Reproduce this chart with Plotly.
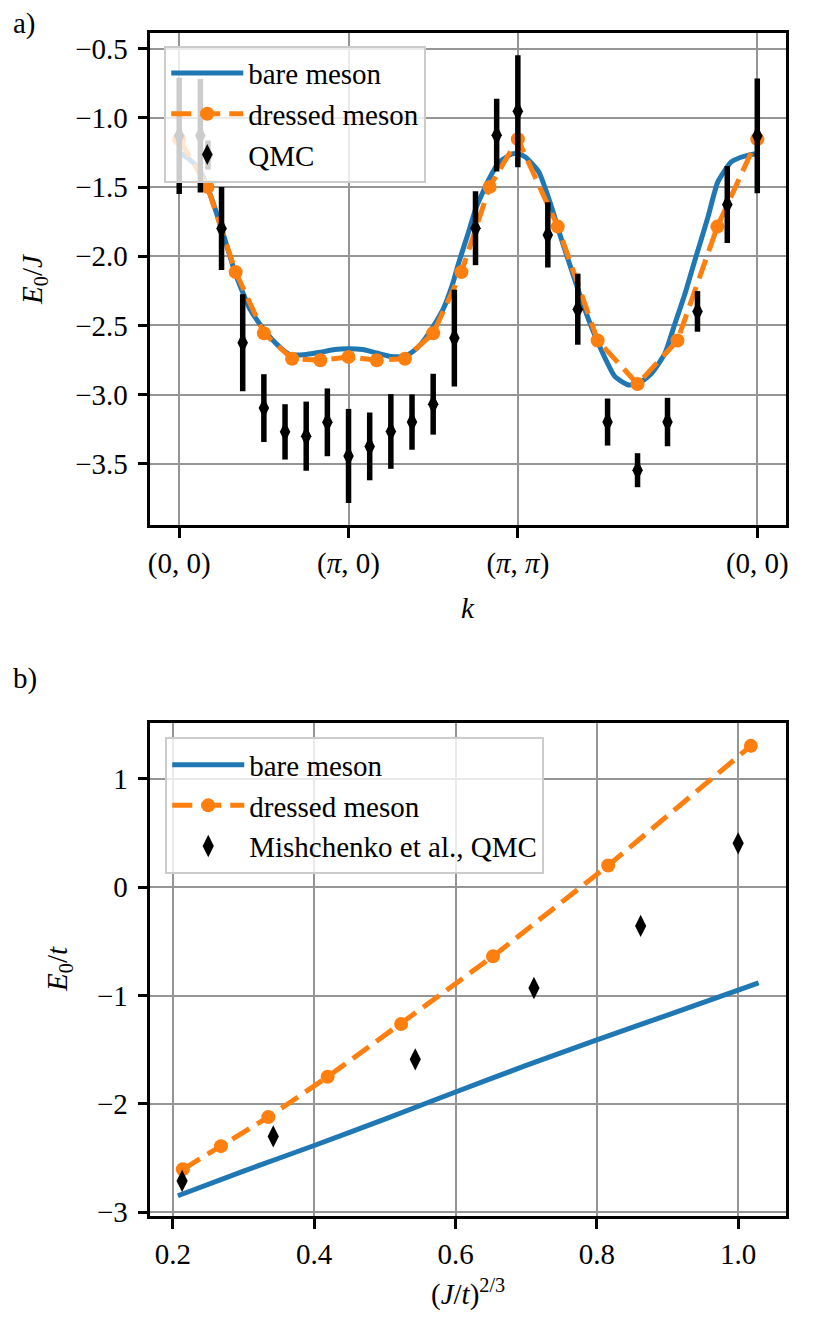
import plotly.graph_objects as go

W, H = 822, 1320          # page body has an 8px margin, so the figure sits at (8, 8)
OFF = 8
FONT = "Liberation Serif, Times New Roman, serif"
FS = 29
BLUE = "#1f77b4"
ORANGE = "#ff7f0e"

# ---------------- panel a data ----------------
k_tick_vals = [0.0, 1.0, 2.0, 3.4142]
k_tick_text = ["(0, 0)", "(<i>π</i>, 0)", "(<i>π</i>, <i>π</i>)", "(0, 0)"]
ya_tick_vals = [-3.5, -3.0, -2.5, -2.0, -1.5, -1.0, -0.5]
ya_tick_text = ["−3.5", "−3.0", "−2.5", "−2.0", "−1.5", "−1.0", "−0.5"]

bare_k = [0.0, 0.06, 0.118, 0.167, 0.25, 0.333, 0.417, 0.5, 0.583, 0.65, 0.75,
          0.833, 0.917, 1.0, 1.083, 1.167, 1.25, 1.333, 1.40, 1.45, 1.497, 1.56,
          1.615, 1.65, 1.70, 1.752, 1.80, 1.831, 1.889, 1.967, 2.0, 2.046, 2.124,
          2.202, 2.25, 2.30, 2.35, 2.398, 2.476, 2.574, 2.654, 2.713, 2.789, 2.868,
          2.927, 2.99, 3.044, 3.12, 3.181, 3.259, 3.318, 3.396, 3.4142]
bare_E = [-1.25, -1.30, -1.37, -1.50, -1.80, -2.13, -2.38, -2.53, -2.645, -2.71, -2.71,
          -2.695, -2.675, -2.669, -2.675, -2.70, -2.725, -2.725, -2.67, -2.60, -2.514, -2.38,
          -2.20, -2.05, -1.86, -1.655, -1.52, -1.44, -1.32, -1.261, -1.26, -1.285, -1.392,
          -1.655, -1.85, -2.036, -2.22, -2.394, -2.633, -2.871, -2.931, -2.92, -2.848, -2.705,
          -2.49, -2.26, -2.036, -1.73, -1.463, -1.320, -1.285, -1.261, -1.26]

dressed_k = [0.0, 0.1667, 0.3333, 0.5, 0.6667, 0.8333, 1.0, 1.1667, 1.3333, 1.5,
             1.6667, 1.8333, 2.0, 2.2357, 2.4714, 2.7071, 2.9428, 3.1785, 3.4142]
dressed_E = [-1.154, -1.499, -2.115, -2.557, -2.741, -2.752, -2.728, -2.752, -2.741, -2.557,
             -2.115, -1.499, -1.154, -1.786, -2.609, -2.924, -2.609, -1.786, -1.154]

qmc_k = [0.0, 0.125, 0.170, 0.25, 0.375, 0.5, 0.625, 0.75, 0.875, 1.0, 1.125, 1.25,
         1.375, 1.5, 1.625, 1.75, 1.875, 2.0, 2.177, 2.354, 2.530, 2.707, 2.884,
         3.061, 3.237, 3.4142]
qmc_E = [-1.13, -1.13, -1.268, -1.80, -2.626, -3.098, -3.270, -3.301, -3.201, -3.444,
         -3.375, -3.267, -3.199, -3.070, -2.592, -1.798, -1.125, -0.953, -1.846, -2.383,
         -3.199, -3.547, -3.199, -2.399, -1.626, -1.130]
qmc_err = [0.42, 0.41, 0.105, 0.30, 0.35, 0.245, 0.20, 0.25, 0.245, 0.34, 0.245, 0.27,
           0.20, 0.22, 0.35, 0.267, 0.263, 0.405, 0.236, 0.257, 0.17, 0.123, 0.175,
           0.147, 0.278, 0.415]

# ---------------- panel b data ----------------
xb_tick_vals = [0.2, 0.4, 0.6, 0.8, 1.0]
xb_tick_text = ["0.2", "0.4", "0.6", "0.8", "1.0"]
yb_tick_vals = [-3, -2, -1, 0, 1]
yb_tick_text = ["−3", "−2", "−1", "0", "1"]

bare_x_b = [0.207, 0.30, 0.40, 0.50, 0.60, 0.70, 0.80, 0.90, 1.029]
bare_E_b = [-2.848, -2.62, -2.384, -2.14, -1.89, -1.645, -1.41, -1.18, -0.883]

dressed_x_b = [0.214, 0.268, 0.335, 0.419, 0.523, 0.653, 0.816, 1.018]
dressed_E_b = [-2.604, -2.39, -2.122, -1.75, -1.262, -0.638, 0.201, 1.305]

qmc_x_b = [0.213, 0.342, 0.543, 0.711, 0.862, 1.0]
qmc_E_b = [-2.711, -2.30, -1.589, -0.93, -0.357, 0.405]


def px(x):
    return (x - OFF) / W


def py(y):
    return 1 - (y - OFF) / H


fig = go.Figure()

# panel a
fig.add_trace(go.Scatter(x=bare_k, y=bare_E, mode="lines", name="bare meson",
                         line=dict(color=BLUE, width=5, shape="spline", smoothing=0.5),
                         xaxis="x", yaxis="y", legend="legend"))
fig.add_trace(go.Scatter(x=dressed_k, y=dressed_E, mode="lines+markers", name="dressed meson",
                         line=dict(color=ORANGE, width=5, dash="20px,9px"),
                         marker=dict(color=ORANGE, size=14),
                         xaxis="x", yaxis="y", legend="legend"))
fig.add_trace(go.Scatter(x=qmc_k, y=qmc_E, mode="markers", name="QMC",
                         marker=dict(color="black", size=15, symbol="diamond-tall"),
                         error_y=dict(type="data", array=qmc_err, thickness=5.5, width=0, color="black"),
                         xaxis="x", yaxis="y", legend="legend"))

# panel b
fig.add_trace(go.Scatter(x=bare_x_b, y=bare_E_b, mode="lines", name="bare meson",
                         line=dict(color=BLUE, width=5, shape="spline", smoothing=0.5),
                         xaxis="x2", yaxis="y2", legend="legend2"))
fig.add_trace(go.Scatter(x=dressed_x_b, y=dressed_E_b, mode="lines+markers", name="dressed meson",
                         line=dict(color=ORANGE, width=5, dash="20px,9px"),
                         marker=dict(color=ORANGE, size=14),
                         xaxis="x2", yaxis="y2", legend="legend2"))
fig.add_trace(go.Scatter(x=qmc_x_b, y=qmc_E_b, mode="markers", name="Mishchenko et al., QMC",
                         marker=dict(color="black", size=16, symbol="diamond-tall"),
                         xaxis="x2", yaxis="y2", legend="legend2"))

axis_common = dict(showline=True, linecolor="black", linewidth=2.5, mirror=True,
                   ticks="outside", ticklen=10, tickwidth=2.5, tickcolor="black",
                   showgrid=True, gridcolor="#959595", gridwidth=1.8, zeroline=False,
                   tickfont=dict(family=FONT, size=FS, color="black"))

xdom = [px(149), px(788)]
fig.update_layout(
    width=W, height=H,
    margin=dict(l=0, r=0, t=0, b=0),
    paper_bgcolor="white", plot_bgcolor="white",
    font=dict(family=FONT, size=FS, color="black"),
    showlegend=True,
    xaxis=dict(domain=xdom, range=[-0.1707, 3.585], anchor="y",
               tickmode="array", tickvals=k_tick_vals, ticktext=k_tick_text, **axis_common),
    yaxis=dict(domain=[py(530), py(33)], range=[-3.945, -0.385], anchor="x",
               tickmode="array", tickvals=ya_tick_vals, ticktext=ya_tick_text,
               ticklabelstandoff=4, **axis_common),
    xaxis2=dict(domain=xdom, range=[0.168, 1.068], anchor="y2",
                tickmode="array", tickvals=xb_tick_vals, ticktext=xb_tick_text, **axis_common),
    yaxis2=dict(domain=[py(1227.3), py(730)], range=[-3.037, 1.512], anchor="x2",
                tickmode="array", tickvals=yb_tick_vals, ticktext=yb_tick_text,
                ticklabelstandoff=4, **axis_common),
    legend=dict(x=px(163), y=py(46), xanchor="left", yanchor="top",
                bgcolor="rgba(255,255,255,0.8)", bordercolor="#cccccc", borderwidth=2,
                font=dict(family=FONT, size=FS, color="black"), itemwidth=72),
    legend2=dict(x=px(164), y=py(744), xanchor="left", yanchor="top",
                 bgcolor="rgba(255,255,255,0.8)", bordercolor="#cccccc", borderwidth=2,
                 font=dict(family=FONT, size=FS, color="black"), itemwidth=72),
)

annots = [
    dict(text="a)", x=px(OFF + 1), y=py(24), xanchor="left", yanchor="middle"),
    dict(text="b)", x=px(OFF + 1), y=py(685), xanchor="left", yanchor="middle"),
    dict(text="<i>E</i><sub>0</sub>/<i>J</i>", x=px(32), y=py(281.5), textangle=-90,
         xanchor="center", yanchor="middle"),
    dict(text="<i>E</i><sub>0</sub>/<i>t</i>", x=px(57), y=py(978), textangle=-90,
         xanchor="center", yanchor="middle"),
    dict(text="<i>k</i>", x=px(468), y=py(614), xanchor="center", yanchor="middle"),
    dict(text="(<i>J</i>/<i>t</i>)<sup>2/3</sup>", x=px(468), y=py(1304),
         xanchor="center", yanchor="middle"),
]
for a in annots:
    fig.add_annotation(xref="paper", yref="paper", showarrow=False,
                       font=dict(family=FONT, size=FS, color="black"), **a)

fig.write_html("out.html")
